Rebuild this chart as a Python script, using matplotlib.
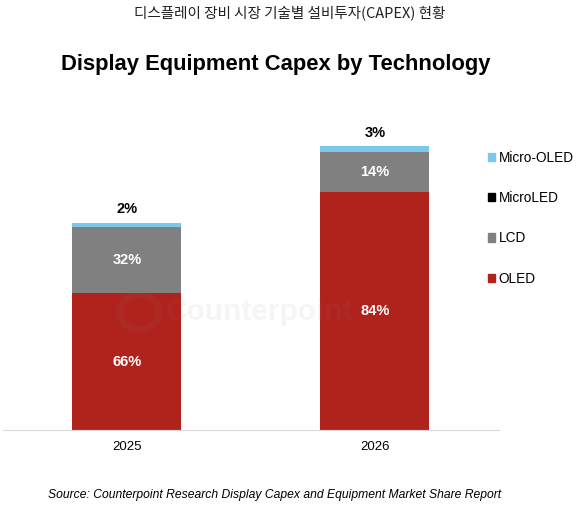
import matplotlib.pyplot as plt
from matplotlib.patches import Patch, Circle

plt.rcParams['font.family'] = ['Liberation Sans', 'DejaVu Sans']

years = ['2025', '2026']
# capex index (2025 = 100), stacked by technology
oled = [66, 115]
lcd = [32, 19]
microled = [0.1, 0.1]
micro_oled = [2, 3]
oled_lbl = ['66%', '84%']
lcd_lbl = ['32%', '14%']
micro_oled_lbl = ['2%', '3%']

c_oled = '#B0231C'
c_lcd = '#808080'
c_microled = '#000000'
c_micro_oled = '#7CC8EA'

fig = plt.figure(figsize=(5.8, 5.09), dpi=100)
ax = fig.add_axes([0.005, 0.155, 0.855, 0.631])

x = range(len(years))
w = 0.44
ax.bar(x, oled, w, color=c_oled)
bot = oled
ax.bar(x, lcd, w, bottom=bot, color=c_lcd)
bot = [a + b for a, b in zip(bot, lcd)]
ax.bar(x, microled, w, bottom=bot, color=c_microled)
bot = [a + b for a, b in zip(bot, microled)]
ax.bar(x, micro_oled, w, bottom=bot, color=c_micro_oled)
top = [a + b for a, b in zip(bot, micro_oled)]

for i in x:
    ax.text(i, oled[i] / 2, oled_lbl[i], ha='center', va='center',
            color='white', fontsize=10.5, fontweight='bold')
    ax.text(i, oled[i] + lcd[i] / 2, lcd_lbl[i], ha='center', va='center',
            color='white', fontsize=10.5, fontweight='bold')
    ax.text(i, top[i] + 3, micro_oled_lbl[i], ha='center', va='bottom',
            color='black', fontsize=10.5, fontweight='bold')

ax.set_xlim(-0.5, 1.5)
ax.set_ylim(0, 155)
ax.set_xticks(list(x))
ax.set_xticklabels(years, fontsize=9.5)
ax.tick_params(axis='x', length=0, pad=8)
ax.set_yticks([])
for s in ['top', 'right', 'left']:
    ax.spines[s].set_visible(False)
ax.spines['bottom'].set_color('#D9D9D9')

# watermark
fig.text(0.447, 0.387, 'Counterpoint', fontsize=21.5, fontweight='bold',
         color='grey', alpha=0.08, ha='center', va='center')
fig.patches.append(Circle((0.24, 0.387), 0.034, transform=fig.transFigure,
                          fill=False, lw=5, ec='grey', alpha=0.08))

handles = [Patch(color=c_micro_oled), Patch(color=c_microled),
           Patch(color=c_lcd), Patch(color=c_oled)]
fig.legend(handles, ['Micro-OLED', 'MicroLED', 'LCD', 'OLED'],
           loc='upper left', bbox_to_anchor=(0.82, 0.728), frameon=False,
           fontsize=9.8, handlelength=0.55, handleheight=0.55, handletextpad=0.25,
           labelspacing=1.93)

fig.text(0.5, 0.975, '디스플레이 장비 시장 기술별 설비투자(CAPEX) 현황',
         family=['Noto Sans CJK KR', 'DejaVu Sans'], fontsize=10.5,
         ha='center', va='center', color='#222222')
fig.text(0.475, 0.873, 'Display Equipment Capex by Technology',
         fontsize=15.8, fontweight='bold', ha='center', va='center')
fig.text(0.473, 0.027,
         'Source: Counterpoint Research Display Capex and Equipment Market Share Report',
         fontsize=8.7, style='italic', ha='center', va='center')

fig.savefig('out.png', dpi=100)
